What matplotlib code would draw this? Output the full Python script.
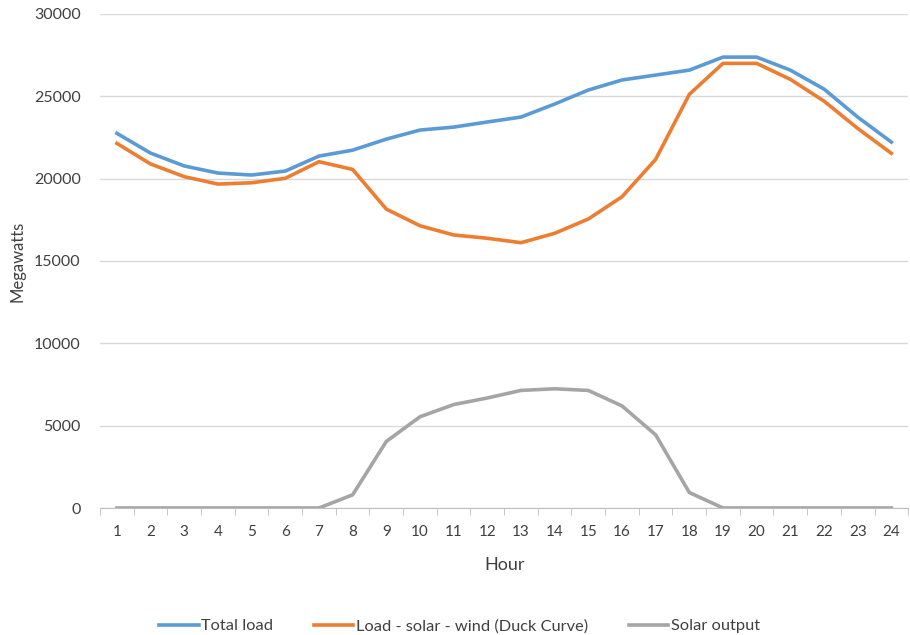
import numpy as np
import matplotlib
matplotlib.use('Agg')
import matplotlib.pyplot as plt

plt.rcParams['font.family'] = ['Lato', 'DejaVu Sans']

hours = list(range(1, 25))
total_load = [22750, 21550, 20770, 20340, 20220, 20460, 21370, 21730, 22400, 22950, 23130, 23440,
              23740, 24530, 25380, 25990, 26290, 26590, 27380, 27380, 26590, 25440, 23740, 22220]
duck_curve = [22140, 20890, 20120, 19670, 19750, 20020, 21030, 20560, 18150, 17140, 16580, 16380,
              16110, 16680, 17550, 18900, 21170, 25120, 27000, 27000, 26030, 24710, 23050, 21540]
solar_output = [0, 0, 0, 0, 0, 0, 0, 800, 4040, 5540, 6280, 6680,
                7140, 7240, 7140, 6200, 4440, 940, 0, 0, 0, 0, 0, 0]

fig = plt.figure(figsize=(9.1, 6.35), dpi=100)
ax = fig.add_axes([0.110, 0.200, 0.888, 0.778])

ax.plot(hours, total_load, color='#5B9BD5', lw=2.6, label='Total load', solid_joinstyle='round')
ax.plot(hours, duck_curve, color='#ED7D31', lw=2.6, label='Load - solar - wind (Duck Curve)', solid_joinstyle='round')
ax.plot(hours, solar_output, color='#A5A5A5', lw=2.6, label='Solar output', solid_joinstyle='round')

ax.set_xlim(0.5, 24.5)
ax.set_ylim(0, 30000)
ax.set_yticks(range(0, 30001, 5000))
ax.set_xticks(hours)
ax.set_xticks(np.arange(0.5, 25, 1), minor=True)
ax.grid(axis='y', color='#D9D9D9', lw=1)
ax.set_axisbelow(True)
for s in ['top', 'right', 'left']:
    ax.spines[s].set_visible(False)
ax.spines['bottom'].set_color('#BFBFBF')
ax.tick_params(axis='x', which='major', length=0, pad=12, labelsize=11, labelcolor='#404040')
ax.tick_params(axis='x', which='minor', length=5, color='#BFBFBF')
ax.tick_params(axis='y', length=0, pad=14, labelsize=11.5, labelcolor='#404040')

ax.set_xlabel('Hour', fontsize=13, color='#404040', labelpad=13)
ax.set_ylabel('Megawatts', fontsize=12, color='#404040', labelpad=6)

fig.legend(loc='center', bbox_to_anchor=(0.505, 0.014), ncol=3, frameon=False,
           fontsize=11.8, handlelength=2.4, columnspacing=2.5, handletextpad=0.15,
           labelcolor='#404040')

fig.savefig('out.png', dpi=100)
